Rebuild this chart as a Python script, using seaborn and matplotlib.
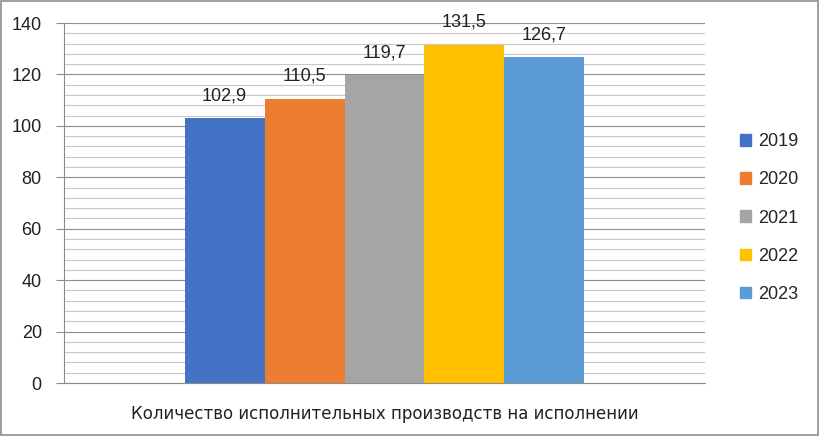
import pandas as pd
import seaborn as sns
from matplotlib import pyplot as plt
from matplotlib.ticker import MultipleLocator

category = "Количество исполнительных производств на исполнении"
years = ["2019", "2020", "2021", "2022", "2023"]
values = [102.9, 110.5, 119.7, 131.5, 126.7]
colors = ["#4472C4", "#ED7D31", "#A5A5A5", "#FFC000", "#5B9BD5"]


def fmt_comma(v):
    return f"{v:.1f}".replace(".", ",")


def plot_chart():
    sns.set_theme(style="white")
    plt.rcParams["font.family"] = ["Liberation Sans", "DejaVu Sans"]

    df = pd.DataFrame({"cat": [category] * len(years), "year": years, "value": values})

    fig = plt.figure(figsize=(8.19, 4.36), dpi=100)
    fig.patch.set_edgecolor("#A0A0A0")
    fig.patch.set_linewidth(1.5)
    ax = fig.add_axes([64 / 819, 53 / 436, 641 / 819, 360 / 436])

    sns.barplot(data=df, x="cat", y="value", hue="year", palette=colors,
                width=0.624, gap=0, saturation=1, linewidth=0, ax=ax, legend=False)

    ax.set_xlim(-0.5, 0.5)
    ax.set_ylim(0, 140)
    ax.yaxis.set_major_locator(MultipleLocator(20))
    ax.yaxis.set_minor_locator(MultipleLocator(4))
    ax.set_axisbelow(True)
    ax.grid(which="major", axis="y", color="#8C8C8C", lw=0.8)
    ax.grid(which="minor", axis="y", color="#C8C8C8", lw=0.8)
    ax.grid(axis="x", visible=False)

    for side in ["top", "right"]:
        ax.spines[side].set_visible(False)
    ax.spines["left"].set_color("#8C8C8C")
    ax.spines["bottom"].set_color("#8C8C8C")
    ax.spines["left"].set_linewidth(0.8)
    ax.spines["bottom"].set_linewidth(0.8)

    ax.tick_params(axis="y", which="major", left=True, length=6, width=0.8,
                   color="#8C8C8C", labelsize=13, labelcolor="#222222", pad=10)
    ax.tick_params(axis="y", which="minor", left=False)
    ax.tick_params(axis="x", bottom=False, labelsize=12, labelcolor="#222222", pad=10)
    for lab in ax.get_xticklabels():
        lab.set_family("DejaVu Sans")
    ax.set_xlabel("")
    ax.set_ylabel("")

    for cont in ax.containers:
        ax.bar_label(cont, labels=[fmt_comma(b.get_height()) for b in cont],
                     padding=10, fontsize=13, color="#222222")

    handles = [plt.Rectangle((0, 0), 1, 1, color=c) for c in colors]
    fig.legend(handles, years, loc="center left", bbox_to_anchor=(731 / 819, 218 / 436),
               frameon=False, fontsize=13, handlelength=0.6, handleheight=0.6,
               handletextpad=0.4, labelspacing=1.17, borderpad=0)

    fig.savefig("out.png", dpi=100)


if __name__ == "__main__":
    plot_chart()
